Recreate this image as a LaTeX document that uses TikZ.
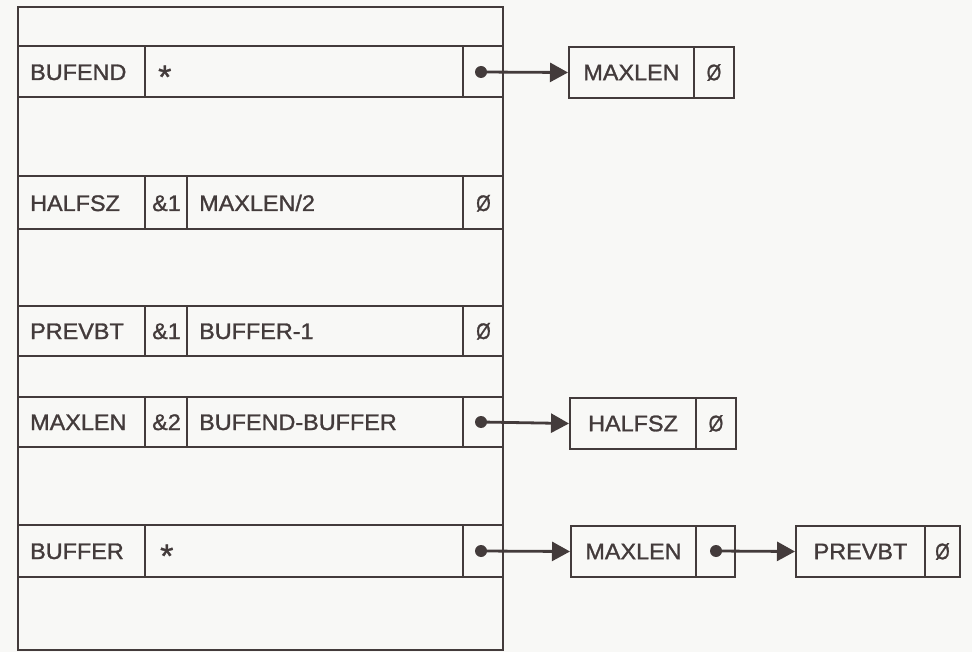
\documentclass[tikz,border=0pt]{standalone}
\usepackage{fontspec}
\setmainfont[FakeStretch=1.04,FakeBold=1.2]{Liberation Sans}
\usetikzlibrary{arrows.meta}
\definecolor{ink}{HTML}{433B3B}
\definecolor{paper}{HTML}{F8F8F6}
\newcommand{\slz}{\scalebox{0.8}[1]{Ø}}
\newcommand{\myast}{\raisebox{-0.36em}{\scalebox{1.45}{*}}}
\begin{document}
\begin{tikzpicture}[x=1pt,y=-1pt,
  line/.style={draw=ink,line width=2pt},
  txt/.style={text=ink,font=\fontsize{22.5}{25}\selectfont,inner sep=0pt,anchor=base west},
  rbox/.style={draw=ink,line width=2pt,text=ink,font=\fontsize{22.5}{25}\selectfont,inner sep=0pt,anchor=north west,minimum height=51pt},
  ptr/.style={draw=ink,line width=2.8pt,-{Triangle[length=18pt,width=19pt]},shorten <=-1pt},
  dotmark/.style={fill=ink,circle,inner sep=0pt,minimum size=12pt}]
\useasboundingbox (0,0) rectangle (972,652);
\fill[paper] (0,0) rectangle (972,652);
% outer table
\draw[line] (18,7) rectangle (503,650);
% rows
\foreach \a/\b in {46/97,176/229,306/356,397/447,525/577}{
  \draw[line] (18,\a) rectangle (503,\b);
  \draw[line] (145,\a) -- (145,\b);
  \draw[line] (463,\a) -- (463,\b);
}
\foreach \a/\b in {176/229,306/356,397/447}{
  \draw[line] (187,\a) -- (187,\b);
}
% texts in table
\node[txt] (t1a) at (30,80) {BUFEND};
\node[txt] (t1b) at (158,80) {\myast};
\node[txt] (t2a) at (30,211) {HALFSZ};
\node[txt] (t2b) at (152,211) {\&1};
\node[txt] (t2c) at (199,211) {MAXLEN/2};
\node[txt] (t2d) at (476,211) {\slz};
\node[txt] (t3a) at (30,339) {PREVBT};
\node[txt] (t3b) at (152,339) {\&1};
\node[txt] (t3c) at (199,339) {BUFFER-1};
\node[txt] (t3d) at (476,339) {\slz};
\node[txt] (t4a) at (30,430) {MAXLEN};
\node[txt] (t4b) at (152,430) {\&2};
\node[txt] (t4c) at (199,430) {BUFEND-BUFFER};
\node[txt] (t5a) at (30,559) {BUFFER};
\node[txt] (t5b) at (160,559) {\myast};
% dots
\node[dotmark] (d1) at (481,72) {};
\node[dotmark] (d4) at (481,422) {};
\node[dotmark] (d5) at (481,551) {};
% right boxes
\node[rbox,minimum width=125pt] (b1) at (568,46) {MAXLEN};
\node[rbox,minimum width=40pt] (b1z) at (693,46) {\slz};
\node[rbox,minimum width=126pt] (b2) at (569,397) {HALFSZ};
\node[rbox,minimum width=40pt] (b2z) at (695,397) {\slz};
\node[rbox,minimum width=125pt] (b3) at (570,525) {MAXLEN};
\node[rbox,minimum width=39pt] (b3z) at (695,525) {};
\node[dotmark] (d6) at (716,551) {};
\node[rbox,minimum width=129pt] (b4) at (795,525) {PREVBT};
\node[rbox,minimum width=35pt] (b4z) at (924,525) {\slz};
% pointers
\draw[ptr] (d1.center) -- (b1.west);
\draw[ptr] (d4.center) -- (b2.west);
\draw[ptr] (d5.center) -- (b3.west);
\draw[ptr] (d6.center) -- (b4.west);
\end{tikzpicture}
\end{document}
